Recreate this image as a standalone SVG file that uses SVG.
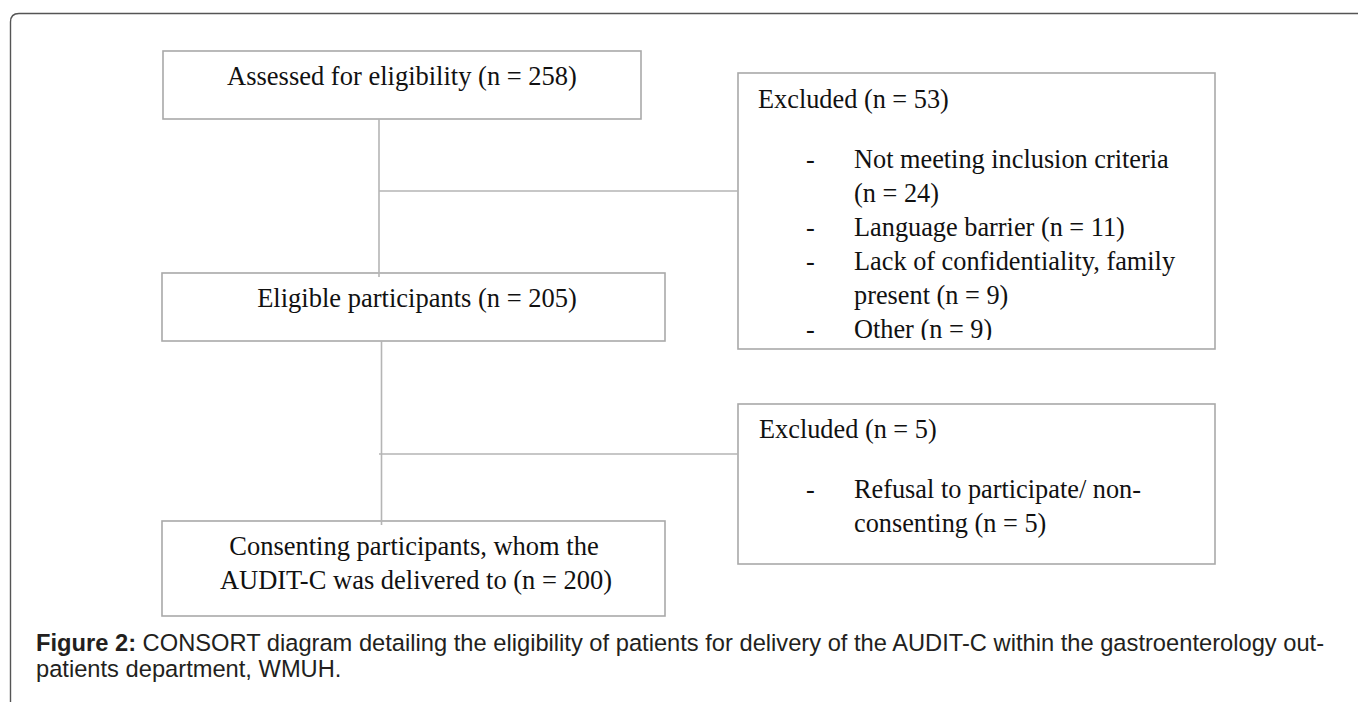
<svg xmlns="http://www.w3.org/2000/svg" width="1358" height="702" viewBox="0 0 1358 702">
<style>
.box{fill:#fff;stroke:#a9a9a9;stroke-width:1.6}
.t{font-family:"Liberation Serif","Times New Roman",serif;font-size:26.5px;fill:#111}
.x{font-size:26.3px}
.c{text-anchor:middle}
.cap{font-family:"Liberation Sans",Arial,sans-serif;font-size:23.7px;fill:#231f20}
.conn{stroke:#b5b5b5;stroke-width:1.6;fill:none}
</style>
<defs>
<clipPath id="clipEx1"><rect x="738" y="73" width="477" height="267"/></clipPath>
</defs>
<rect width="1358" height="702" fill="#fff"/>
<path d="M10.5,702 L10.5,22 Q10.5,13.5 19,13.5 L1358,13.5" fill="none" stroke="#555" stroke-width="1.4"/>
<g id="assessed">
<rect class="box" x="163" y="51" width="478" height="68"/>
<text class="t c" x="402" y="85" font-size="27.2">Assessed for eligibility (n = 258)</text>
</g>
<g id="eligible">
<rect class="box" x="162" y="273" width="503" height="68"/>
<text class="t c" x="417" y="307">Eligible participants (n = 205)</text>
</g>
<g id="consenting">
<rect class="box" x="162" y="521" width="503" height="95"/>
<text class="t c" x="414" y="555">Consenting participants, whom the</text>
<text class="t c" x="416" y="589">AUDIT-C was delivered to (n = 200)</text>
</g>
<g id="excluded53">
<rect class="box" x="738" y="73" width="477" height="276"/>
<g clip-path="url(#clipEx1)" class="x">
<text class="t x" x="758" y="108">Excluded (n = 53)</text>
<text class="t x" x="806" y="168">-</text>
<text class="t x" x="854" y="168">Not meeting inclusion criteria</text>
<text class="t x" x="854" y="202">(n = 24)</text>
<text class="t x" x="806" y="236">-</text>
<text class="t x" x="854" y="236">Language barrier (n = 11)</text>
<text class="t x" x="806" y="270">-</text>
<text class="t x" x="854" y="270">Lack of confidentiality, family</text>
<text class="t x" x="854" y="304">present (n = 9)</text>
<text class="t x" x="806" y="338">-</text>
<text class="t x" x="854" y="338">Other (n = 9)</text>
</g>
</g>
<g id="excluded5">
<rect class="box" x="738" y="404" width="477" height="160"/>
<text class="t x" x="759" y="438">Excluded (n = 5)</text>
<text class="t x" x="806" y="498">-</text>
<text class="t x" x="854" y="498">Refusal to participate/ non-</text>
<text class="t x" x="854" y="532">consenting (n = 5)</text>
</g>
<g id="connectors">
<line class="conn" x1="379" y1="119" x2="379" y2="277"/>
<line class="conn" x1="379" y1="191" x2="738" y2="191"/>
<line class="conn" x1="381.5" y1="341" x2="381.5" y2="525"/>
<line class="conn" x1="379" y1="454" x2="738" y2="454"/>
</g>
<g id="caption">
<text class="cap" x="36" y="651"><tspan font-weight="bold">Figure 2:</tspan> CONSORT diagram detailing the eligibility of patients for delivery of the AUDIT-C within the gastroenterology out-</text>
<text class="cap" x="36" y="677">patients department, WMUH.</text>
</g>
</svg>
